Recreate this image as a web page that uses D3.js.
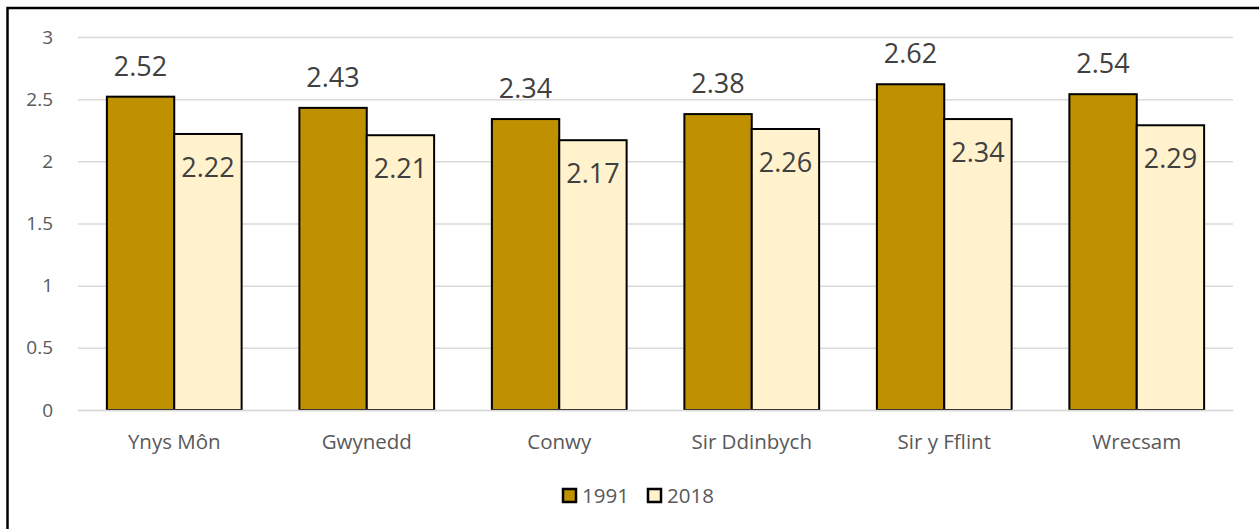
<!DOCTYPE html>
<html><head><meta charset="utf-8">
<script src="https://cdn.jsdelivr.net/npm/d3@7"></script>
<style>body{margin:0;background:#fff;} svg{display:block;font-family:"Open Sans",sans-serif;}</style>
</head><body>
<svg id="chart" width="1259" height="529"></svg>
<script>
const categories = ["Ynys Môn","Gwynedd","Conwy","Sir Ddinbych","Sir y Fflint","Wrecsam"];
const seriesNames = ["1991","2018"];
const values1991 = [2.52,2.43,2.34,2.38,2.62,2.54];
const values2018 = [2.22,2.21,2.17,2.26,2.34,2.29];
const yTicks = [0,0.5,1,1.5,2,2.5,3];
const colors = ["#BF9000","#FFF2CC"];

const svg = d3.select("#chart");
// frame (left and top edges)
svg.append("path").attr("d","M7.5,529 V8 H1259").attr("fill","none").attr("stroke","#000").attr("stroke-width",2.5);

const x0 = d3.scaleBand().domain(categories).range([78,1233]).paddingInner(0.3).paddingOuter(0.15);
const x1 = d3.scaleBand().domain(seriesNames).range([0,x0.bandwidth()]);
const y = d3.scaleLinear().domain([0,3]).range([410,37]);

// gridlines
const yAxis = d3.axisLeft(y).tickValues(yTicks).tickSize(-(1233-78)).tickPadding(25).tickFormat(d=>d);
const gy = svg.append("g").attr("transform","translate(78,0)").call(yAxis);
gy.select(".domain").remove();
gy.selectAll(".tick line").attr("stroke","#D9D9D9").attr("stroke-width",1.5);
gy.selectAll(".tick text").attr("fill","#595959").attr("font-size",19).attr("font-family","Open Sans");

const data = categories.map((c,i)=>({cat:c, vals:[{s:"1991",v:values1991[i]},{s:"2018",v:values2018[i]}]}));
const groups = svg.append("g").selectAll("g").data(data).join("g")
  .attr("transform",d=>`translate(${x0(d.cat)},0)`);
groups.selectAll("rect").data(d=>d.vals).join("rect")
  .attr("x",d=>x1(d.s)).attr("width",x1.bandwidth())
  .attr("y",d=>y(d.v)).attr("height",d=>y(0)-y(d.v))
  .attr("fill",(d,i)=>colors[i]).attr("stroke","#000").attr("stroke-width",2);
groups.selectAll("text").data(d=>d.vals).join("text")
  .attr("x",d=>x1(d.s)+x1.bandwidth()/2)
  .attr("y",(d,i)=> i===0 ? y(d.v)-21 : y(d.v)+43)
  .attr("text-anchor","middle").attr("font-size",27).attr("fill","#404040")
  .text(d=>d.v.toFixed(2));

// x axis
const xAxis = d3.axisBottom(x0).tickSize(0).tickPadding(24);
const gx = svg.append("g").attr("transform","translate(0,410)").call(xAxis);
gx.select(".domain").attr("stroke","#D9D9D9").attr("stroke-width",1.5);
gx.selectAll(".tick text").attr("fill","#595959").attr("font-size",20.5).attr("font-family","Open Sans");

// legend
const legendItems = [{name:"1991",x:563},{name:"2018",x:648}];
const lg = svg.append("g").selectAll("g").data(legendItems).join("g").attr("transform",d=>`translate(${d.x},489)`);
lg.append("rect").attr("width",13).attr("height",13).attr("fill",(d,i)=>colors[i]).attr("stroke","#000").attr("stroke-width",2.5);
lg.append("text").attr("x",19).attr("y",14).attr("font-size",20.5).attr("fill","#595959").text(d=>d.name);
</script>
</body></html>
